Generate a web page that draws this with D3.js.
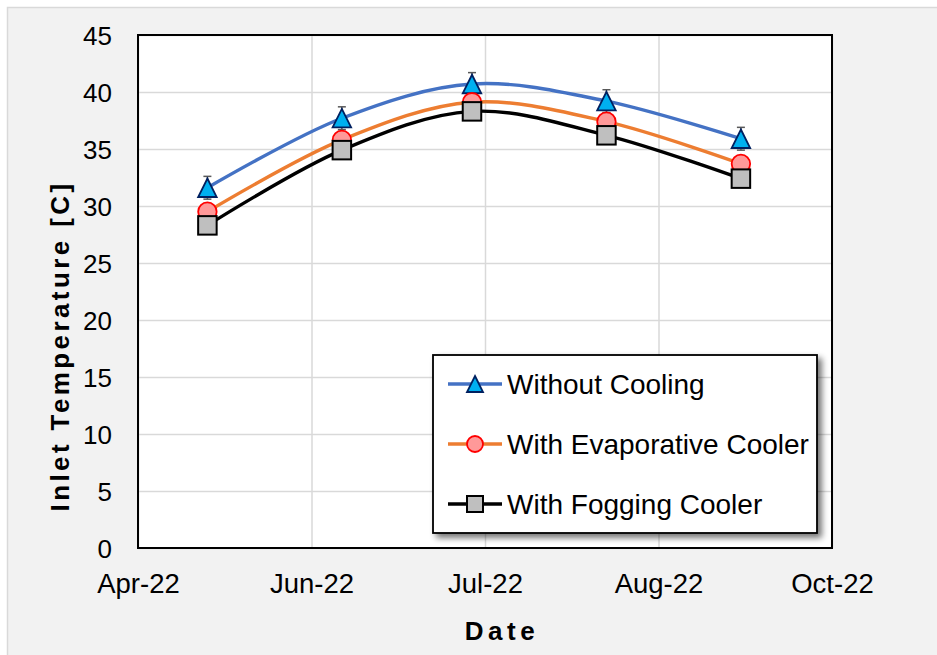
<!DOCTYPE html>
<html>
<head>
<meta charset="utf-8">
<script src="https://cdn.jsdelivr.net/npm/d3@7"></script>
<style>
  body { margin: 0; background: #fff; }
  text { font-family: "Liberation Sans", Arial, sans-serif; fill: #000; }
</style>
</head>
<body>
<script>
// chart values
var dates = ["2022-05-15", "2022-06-15", "2022-07-15", "2022-08-15", "2022-09-15"];
var withoutCooling = [31.6, 37.7, 40.7, 39.2, 35.9];
var withEvaporative = [29.5, 35.8, 39.1, 37.4, 33.7];
var withFogging = [28.3, 34.9, 38.3, 36.2, 32.4];
var errorWithout = [1, 1, 1, 1, 1];
var seriesNames = ["Without Cooling", "With Evaporative Cooler", "With Fogging Cooler"];
var xTickDates = ["2022-04-29", "2022-06-08", "2022-07-18", "2022-08-27", "2022-10-06"];
var xTickLabels = ["Apr-22", "Jun-22", "Jul-22", "Aug-22", "Oct-22"];
var yTicks = [0, 5, 10, 15, 20, 25, 30, 35, 40, 45];

var width = 937,
    height = 655;
var margin = {left: 138, top: 35, right: 105, bottom: 107};
var parse = d3.timeParse("%Y-%m-%d");

var svg = d3.select("body").append("svg")
    .attr("width", width)
    .attr("height", height);

var defs = svg.append("defs");
var shadow = defs.append("filter").attr("id", "shadow")
    .attr("x", "-10%").attr("y", "-10%").attr("width", "130%").attr("height", "130%");
shadow.append("feGaussianBlur").attr("in", "SourceAlpha").attr("stdDeviation", 3);
shadow.append("feOffset").attr("dx", 4).attr("dy", 4).attr("result", "blur");
shadow.append("feComponentTransfer").append("feFuncA").attr("type", "linear").attr("slope", 0.55);
var merge = shadow.append("feMerge");
merge.append("feMergeNode");
merge.append("feMergeNode").attr("in", "SourceGraphic");

// chart background
svg.append("rect")
    .attr("x", 7.5).attr("y", 7.5)
    .attr("width", width).attr("height", height)
    .attr("fill", "#f2f2f2")
    .attr("stroke", "#d9d9d9")
    .attr("stroke-width", 1.5);

var x = d3.scaleTime()
    .domain([parse(xTickDates[0]), parse(xTickDates[xTickDates.length - 1])])
    .range([margin.left, width - margin.right]);

var y = d3.scaleLinear()
    .domain([0, 45])
    .range([height - margin.bottom, margin.top]);

var g = svg.append("g");

g.append("rect")
    .attr("x", x.range()[0]).attr("y", y(45))
    .attr("width", x.range()[1] - x.range()[0])
    .attr("height", y(0) - y(45))
    .attr("fill", "#fff");

// gridlines
g.append("g")
    .attr("transform", "translate(0," + y(0) + ")")
    .call(d3.axisBottom(x).tickValues(xTickDates.map(parse)).tickSize(-(y(0) - y(45))).tickFormat(""))
    .call(a => a.select(".domain").remove())
    .selectAll("line").attr("stroke", "#d9d9d9").attr("stroke-width", 1.5);

g.append("g")
    .attr("transform", "translate(" + x.range()[0] + ",0)")
    .call(d3.axisLeft(y).tickValues(yTicks).tickSize(-(x.range()[1] - x.range()[0])).tickFormat(""))
    .call(a => a.select(".domain").remove())
    .selectAll("line").attr("stroke", "#d9d9d9").attr("stroke-width", 1.5);

// plot border
g.append("rect")
    .attr("x", x.range()[0]).attr("y", y(45))
    .attr("width", x.range()[1] - x.range()[0])
    .attr("height", y(0) - y(45))
    .attr("fill", "none")
    .attr("stroke", "#000")
    .attr("stroke-width", 2);

// axis labels
var yAxis = g.append("g")
    .attr("transform", "translate(" + (x.range()[0] - 26) + ",0)")
    .call(d3.axisLeft(y).tickValues(yTicks).tickSize(0).tickPadding(0));
yAxis.select(".domain").remove();
yAxis.selectAll("text")
    .style("font-family", "'Liberation Sans', Arial, sans-serif")
    .style("font-size", "26px")
    .attr("fill", "#000")
    .attr("dy", "0.36em");

var xAxis = g.append("g")
    .attr("transform", "translate(0," + (y(0) + 25) + ")")
    .call(d3.axisBottom(x).tickValues(xTickDates.map(parse)).tickSize(0).tickPadding(0)
        .tickFormat((d, i) => xTickLabels[i]));
xAxis.select(".domain").remove();
xAxis.selectAll("text")
    .style("font-family", "'Liberation Sans', Arial, sans-serif")
    .style("font-size", "27.5px")
    .attr("fill", "#000")
    .attr("dy", "0.71em");

svg.append("text")
    .attr("transform", "translate(69," + 346 + ") rotate(-90)")
    .attr("text-anchor", "middle")
    .style("font-size", "26px")
    .style("font-weight", "bold")
    .style("letter-spacing", "3.4px")
    .text("Inlet Temperature [C]");

svg.append("text")
    .attr("x", (x.range()[0] + x.range()[1]) / 2 + 17)
    .attr("y", 640)
    .attr("text-anchor", "middle")
    .style("font-size", "26px")
    .style("font-weight", "bold")
    .style("letter-spacing", "4.5px")
    .text("Date");

// series
var series = [
    {name: seriesNames[0], values: withoutCooling, line: "#4472c4", marker: "triangle", fill: "#00b0f0", stroke: "#002060"},
    {name: seriesNames[1], values: withEvaporative, line: "#ed7d31", marker: "circle", fill: "#ff9999", stroke: "#ff0000"},
    {name: seriesNames[2], values: withFogging, line: "#000000", marker: "square", fill: "#bfbfbf", stroke: "#000000"}
];

var line = d3.line()
    .x((d, i) => x(parse(dates[i])))
    .y(d => y(d))
    .curve(d3.curveCatmullRom);

g.selectAll(".series-line")
    .data(series)
    .enter().append("path")
    .attr("class", "series-line")
    .attr("d", d => line(d.values))
    .attr("fill", "none")
    .attr("stroke", d => d.line)
    .attr("stroke-width", 3.4);

// error bars on the uncooled series
var err = g.append("g").selectAll("g")
    .data(withoutCooling)
    .enter().append("g")
    .attr("stroke", "#595959")
    .attr("stroke-width", 1.5);
err.append("line")
    .attr("x1", (d, i) => x(parse(dates[i]))).attr("x2", (d, i) => x(parse(dates[i])))
    .attr("y1", (d, i) => y(d - errorWithout[i])).attr("y2", (d, i) => y(d + errorWithout[i]));
err.append("line")
    .attr("x1", (d, i) => x(parse(dates[i])) - 4).attr("x2", (d, i) => x(parse(dates[i])) + 4)
    .attr("y1", (d, i) => y(d + errorWithout[i])).attr("y2", (d, i) => y(d + errorWithout[i]));
err.append("line")
    .attr("x1", (d, i) => x(parse(dates[i])) - 4).attr("x2", (d, i) => x(parse(dates[i])) + 4)
    .attr("y1", (d, i) => y(d - errorWithout[i])).attr("y2", (d, i) => y(d - errorWithout[i]));

function drawMarker(sel, s, size) {
    var m;
    if (s.marker == "triangle") {
        var h = size / 2;
        m = sel.append("path").attr("d", "M0," + (-h) + "L" + h + "," + h + "L" + (-h) + "," + h + "Z");
    } else if (s.marker == "circle") {
        m = sel.append("circle").attr("r", size / 2);
    } else {
        m = sel.append("rect").attr("x", -size / 2).attr("y", -size / 2).attr("width", size).attr("height", size);
    }
    m.attr("fill", s.fill)
        .attr("stroke", s.stroke)
        .attr("stroke-width", s.marker == "square" ? 2 : 1.8);
}

series.forEach(function (s) {
    g.append("g").selectAll("g")
        .data(s.values)
        .enter().append("g")
        .attr("transform", (d, i) => "translate(" + x(parse(dates[i])) + "," + y(d) + ")")
        .each(function () { drawMarker(d3.select(this), s, 18.5); });
});

// legend
var legend = svg.append("g").attr("transform", "translate(433,355)");
legend.append("rect")
    .attr("width", 384).attr("height", 178)
    .attr("fill", "#fff")
    .attr("stroke", "#000")
    .attr("stroke-width", 1.8)
    .attr("filter", "url(#shadow)");

var items = legend.selectAll(".item")
    .data(series)
    .enter().append("g")
    .attr("class", "item")
    .attr("transform", (d, i) => "translate(0," + (29 + i * 60) + ")");
items.append("line")
    .attr("x1", 15).attr("x2", 69)
    .attr("stroke", d => d.line)
    .attr("stroke-width", 3.4);
items.each(function (d) {
    var mg = d3.select(this).append("g").attr("transform", "translate(42,0)");
    drawMarker(mg, d, 16);
});
items.append("text")
    .attr("x", 74)
    .attr("dy", "0.36em")
    .style("font-size", "28px")
    .text(d => d.name);
</script>
</body>
</html>
